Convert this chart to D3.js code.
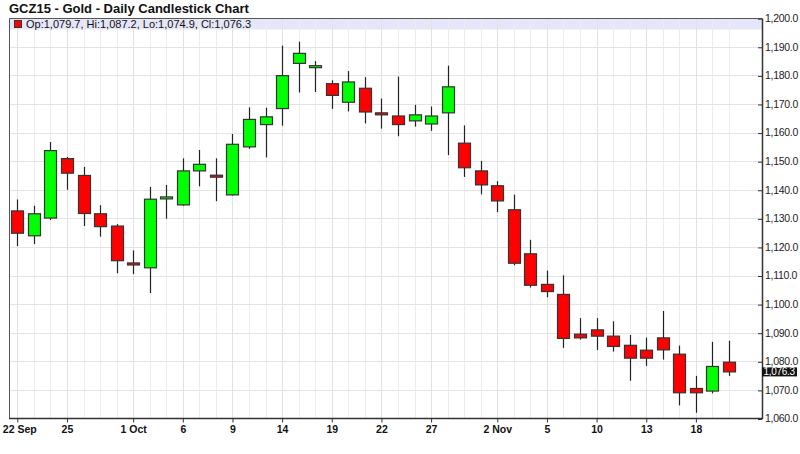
<!DOCTYPE html>
<html>
<head>
<meta charset="utf-8">
<script src="https://cdn.jsdelivr.net/npm/d3@7/dist/d3.min.js"></script>
<style>
  html, body { margin: 0; padding: 0; background: #fff; }
  svg { display: block; font-family: "Liberation Sans", Arial, sans-serif; }
</style>
</head>
<body>
<svg id="chart" width="800" height="454"></svg>
<script>
// ---- Data ----
const dates = [
  "2015-09-22","2015-09-23","2015-09-24","2015-09-25","2015-09-28","2015-09-29","2015-09-30",
  "2015-10-01","2015-10-02","2015-10-05","2015-10-06","2015-10-07","2015-10-08","2015-10-09",
  "2015-10-12","2015-10-13","2015-10-14","2015-10-15","2015-10-16","2015-10-19","2015-10-20",
  "2015-10-21","2015-10-22","2015-10-23","2015-10-26","2015-10-27","2015-10-28","2015-10-29",
  "2015-10-30","2015-11-02","2015-11-03","2015-11-04","2015-11-05","2015-11-06","2015-11-09",
  "2015-11-10","2015-11-11","2015-11-12","2015-11-13","2015-11-16","2015-11-17","2015-11-18",
  "2015-11-19","2015-11-20"
];
const opens = [
  1132.6,1123.9,1130.1,1150.9,1145.0,1131.6,1127.3,1114.4,1112.7,1137.0,1134.7,1146.6,1145.1,1138.2,
  1155.0,1162.8,1168.4,1184.2,1182.8,1177.1,1170.6,1175.5,1166.9,1165.8,1164.1,1163.0,1166.9,1156.3,
  1146.6,1141.4,1133.0,1117.6,1106.9,1103.4,1089.5,1091.0,1088.8,1085.6,1083.9,1088.2,1082.5,1070.5,
  1069.6,1079.7
];
const highs = [
  1136.6,1134.4,1156.7,1151.5,1148.0,1134.6,1128.0,1118.8,1141.0,1141.7,1151.0,1153.9,1151.0,1159.5,
  1168.8,1168.7,1190.4,1191.8,1185.0,1178.3,1181.5,1179.4,1171.9,1179.6,1169.7,1169.1,1183.4,1162.5,
  1150.1,1143.0,1138.3,1122.5,1111.7,1110.1,1095.1,1095.1,1094.0,1089.2,1088.3,1097.6,1085.5,1074.9,
  1086.8,1087.2
];
const lows = [
  1120.3,1121.0,1129.4,1140.0,1127.3,1123.6,1110.8,1110.5,1103.9,1129.9,1134.4,1141.2,1136.0,1138.0,
  1154.3,1151.3,1162.4,1174.0,1174.2,1168.3,1167.4,1163.2,1161.4,1158.7,1162.1,1160.6,1152.1,1144.5,
  1138.4,1132.2,1113.6,1105.8,1102.4,1084.7,1087.6,1084.0,1083.4,1073.2,1078.4,1080.6,1064.6,1062.0,
  1068.8,1074.9
];
const closes = [
  1124.8,1131.6,1153.7,1145.8,1131.7,1127.1,1115.2,1114.1,1136.7,1137.5,1146.6,1148.9,1144.5,1155.9,
  1164.6,1165.5,1179.9,1187.7,1183.4,1173.0,1177.7,1167.2,1166.2,1162.8,1166.2,1165.8,1176.0,1147.7,
  1141.7,1136.1,1114.3,1106.6,1104.4,1088.0,1088.2,1088.8,1085.2,1081.1,1081.1,1084.0,1069.0,1069.0,
  1078.2,1076.3
];
const tickDates = ["2015-09-22","2015-09-25","2015-10-01","2015-10-06","2015-10-09","2015-10-14",
  "2015-10-19","2015-10-22","2015-10-27","2015-11-02","2015-11-05","2015-11-10","2015-11-13","2015-11-18"];
const tickLabels = ["22 Sep","25","1 Oct","6","9","14","19","22","27","2 Nov","5","10","13","18"];
const yTicks = [1060,1070,1080,1090,1100,1110,1120,1130,1140,1150,1160,1170,1180,1190,1200];
const title = "GCZ15 - Gold - Daily Candlestick Chart";
const lastPrice = 1076.3;

const candles = dates.map((d, i) => ({ d, o: opens[i], h: highs[i], l: lows[i], c: closes[i] }));

// ---- Layout ----
const svg = d3.select("#chart");
const plot = { left: 9, right: 762, top: 18, bottom: 418.5 };

const x = d3.scalePoint().domain(dates).range([17.3, 729]);
const y = d3.scaleLinear().domain([1060, 1200]).range([418.5, 18.2]);
const fmt = d3.format(",.1f");
const crisp = v => Math.round(v) + 0.5;

// legend band
svg.append("rect")
  .attr("x", plot.left).attr("y", plot.top)
  .attr("width", plot.right - plot.left).attr("height", 11.5)
  .attr("fill", "#e6e6fa");

// vertical grid (every trading day)
svg.append("g").selectAll("line").data(dates).join("line")
  .attr("x1", d => crisp(x(d))).attr("x2", d => crisp(x(d)))
  .attr("y1", plot.top).attr("y2", plot.bottom)
  .attr("stroke", d => tickDates.includes(d) ? "#e2e2e2" : "#ececec")
  .attr("stroke-width", 1);

// horizontal grid
svg.append("g").selectAll("line").data(yTicks.slice(1, -1)).join("line")
  .attr("x1", plot.left).attr("x2", plot.right)
  .attr("y1", d => crisp(y(d))).attr("y2", d => crisp(y(d)))
  .attr("stroke", "#e4e4e4").attr("stroke-width", 1);

// frame: left, top lines
svg.append("path")
  .attr("d", `M${crisp(plot.left)},${plot.bottom}V${crisp(plot.top)}H${crisp(plot.right)}`)
  .attr("fill", "none").attr("stroke", "#555").attr("stroke-width", 1);

// right axis
const yAxis = d3.axisRight(y).tickValues(yTicks).tickFormat(fmt).tickSize(0).tickPadding(3);
const gy = svg.append("g").attr("transform", `translate(${plot.right},0)`).call(yAxis);
gy.select(".domain").attr("stroke", "#333").attr("stroke-width", 1.5);
gy.selectAll("text").attr("font-size", "10.5px").attr("fill", "#222")
  .attr("letter-spacing", "-0.3px")
  .attr("font-family", "'Liberation Sans', Arial, sans-serif");
gy.selectAll(".tick").append("line")
  .attr("x1", -4).attr("x2", 0).attr("y1", 0.5).attr("y2", 0.5).attr("stroke", "#333");

// bottom axis
const xAxis = d3.axisBottom(x).tickValues(tickDates)
  .tickFormat((d) => tickLabels[tickDates.indexOf(d)]).tickSize(4).tickPadding(3);
const gx = svg.append("g").attr("transform", `translate(0,${plot.bottom})`).call(xAxis);
gx.select(".domain").remove();
gx.insert("line", ":first-child").attr("x1", plot.left).attr("x2", plot.right + 1)
  .attr("y1", 0).attr("y2", 0).attr("stroke", "#333").attr("stroke-width", 1.5);
gx.selectAll(".tick line").attr("stroke", "#333");
gx.selectAll("text").attr("font-size", "10.5px").attr("font-weight", "bold").attr("fill", "#111")
  .attr("font-family", "'Liberation Sans', Arial, sans-serif");
gx.select(".tick text").attr("text-anchor", "start").attr("dx", "-15px");

// candles
const bw = 12;
const g = svg.append("g");
const cg = g.selectAll("g").data(candles).join("g");
cg.append("line")
  .attr("x1", d => crisp(x(d.d))).attr("x2", d => crisp(x(d.d)))
  .attr("y1", d => y(d.h)).attr("y2", d => y(d.l))
  .attr("stroke", "#222").attr("stroke-width", 1.2);
cg.append("rect")
  .attr("x", d => crisp(x(d.d)) - bw / 2)
  .attr("y", d => y(Math.max(d.o, d.c)))
  .attr("width", bw)
  .attr("height", d => Math.max(2, Math.abs(y(d.o) - y(d.c))))
  .attr("fill", d => d.c >= d.o ? "#00ff00" : "#ff0000")
  .attr("stroke", "#333").attr("stroke-width", 1.2);

// last price label
const yl = y(lastPrice);
svg.append("rect").attr("x", plot.right).attr("y", yl - 4.5).attr("width", 35).attr("height", 9)
  .attr("fill", "#111");
svg.append("text").attr("x", plot.right + 1.5).attr("y", yl).attr("dy", "0.35em")
  .attr("font-size", "10px").attr("letter-spacing", "-0.3px")
  .attr("fill", "#fff").text(fmt(lastPrice));

// title
svg.append("text").attr("x", 9).attr("y", 13)
  .attr("font-size", "13px").attr("font-weight", "bold").attr("fill", "#111")
  .attr("font-family", "Arial, 'Liberation Sans', sans-serif").text(title);

// legend
const last = candles[candles.length - 1];
svg.append("rect").attr("x", 14.5).attr("y", 20.5).attr("width", 7).attr("height", 7)
  .attr("fill", last.c >= last.o ? "#00ff00" : "#ff0000").attr("stroke", "#333");
svg.append("text").attr("x", 26).attr("y", 27.5)
  .attr("font-size", "11px").attr("fill", "#111")
  .text(`Op:${fmt(last.o)}, Hi:${fmt(last.h)}, Lo:${fmt(last.l)}, Cl:${fmt(last.c)}`);
</script>
</body>
</html>
